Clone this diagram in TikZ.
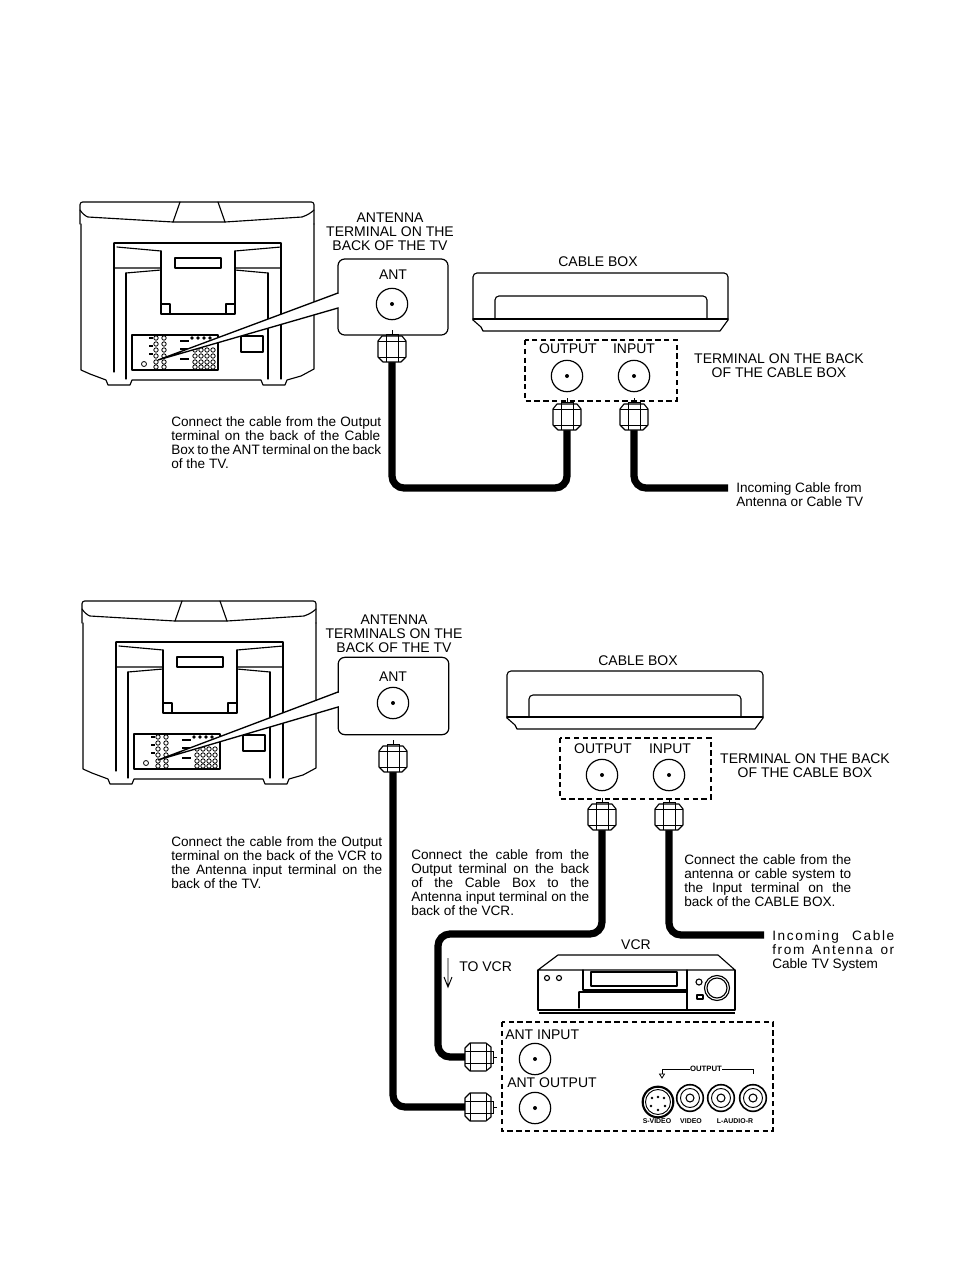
\documentclass[tikz,border=0pt]{standalone}
\usepackage{fontspec}
\setmainfont{Liberation Sans}
\newfontfamily\spacedf[LetterSpace=12]{Liberation Sans}
\newcommand\jl[2]{\hbox to \dimexpr #1pt*3/4\relax{#2}}
\tikzset{
  ln/.style={line width=0.85pt,line join=round,line cap=round},
  thinl/.style={line width=0.6pt},
  lbl/.style={inner sep=0pt,font=\fontsize{10.5}{10.5}\selectfont},
  para/.style={inner sep=0pt,anchor=north west,align=left,font=\fontsize{10.2}{10.5}\selectfont},
  tiny/.style={inner sep=0pt,font=\fontsize{5.2}{6}\selectfont\bfseries},
  cablel/.style={line width=5.4pt,rounded corners=9pt},
  jack/.style={draw,circle,line width=0.9pt,minimum size=23.5pt,inner sep=0pt},
  rca/.style={draw,circle,line width=1.2pt,minimum size=20pt,inner sep=0pt},
  dashbox/.style={draw,dashed,line width=0.8pt,dash pattern=on 4pt off 2.6pt},
  fconn/.pic={
    \draw[ln,fill=white] (-9,0)--(-14,-5)--(-14,-21)--(-10,-26)--(10,-26)--(14,-21)--(14,-5)--(9,0)--cycle;
    \draw[thinl] (-14,-21)--(14,-21) (-6,-26)--(-6,0) (6,-26)--(6,0) (-14,-5)--(14,-5);
    \draw[thinl] (-6,-28)--(6,-28)--(6,-26) (-6,-28)--(-6,-26) (0,-28)--(0,-32);
  }
}
\newcommand\tvback[2]{%
\begin{scope}[shift={(#1,#2)}]
 \draw[ln,rounded corners=2pt] (82,226)--(82,204)--(316,204)--(316,226);
 \draw[ln] (82,212)..controls (84,215) and (87,218) .. (90,219)--(175,224) (227,224)--(304,219)..controls (310,217) and (314,214) .. (316,212);
 \draw[ln] (175,224)--(182,204) (220,204)--(227,224) (181,224)--(221,224) (175,224)--(181,224) (221,224)--(227,224);
 \draw[ln] (83,226)--(83,372)--(92,376)--(108,382)--(110,387)--(132,387)--(134,382)--(263,382)--(265,387)--(287,387)--(289,382)--(303,378)--(316,371)--(316,226);
 \draw[ln] (116,245)--(283,245) (116,245)--(116,374) (283,245)--(283,381);
 \draw[ln] (119,249)--(163,253) (237,253)--(283,249);
 \draw[ln] (116,270)--(163,270) (128,275)--(163,272) (237,272)--(270,275) (237,270)--(283,270);
 \draw[ln] (128,275)--(128,381) (270,275)--(270,381);
 \draw[ln] (163,253)--(163,316)--(237,316)--(237,253);
 \draw[ln] (164,306)--(172,306)--(172,315) (236,306)--(228,306)--(228,315);
 \draw[ln] (177,260)--(223,260)--(223,270)--(177,270)--cycle;
 \draw[ln] (134,337)--(220,337)--(220,372)--(134,372)--cycle;
 \draw[ln] (243,338)--(265,338)--(265,354)--(243,354)--cycle;
 \foreach \c in {158,166} \foreach \r in {340,346,352,358,364,369} {\draw[thinl] (\c,\r) circle (2.2);}
 \foreach \c in {197,203,209,215} \foreach \r in {352,358,364,369} {\draw[thinl] (\c,\r) circle (2.2);}
 \foreach \c in {194,200,206,212} {\fill (\c,340) circle (1.8);}
 \draw[thinl] (146,366) circle (2.5);
 \draw[line width=1pt] (151,340)--(155,340) (151,348)--(155,348) (151,356)--(155,356) (182,343)--(191,343) (182,351)--(191,351) (182,361)--(191,361);
\end{scope}}
\begin{document}
\begin{tikzpicture}[x=0.75pt,y=-0.75pt]
\useasboundingbox (0,0) rectangle (953,1275);
\fill[white] (0,0) rectangle (953,1275);
%% ---------- TOP ----------
\tvback{-2}{-2}
\node[draw,rounded corners=5pt,line width=0.9pt,minimum width=82.5pt,minimum height=57pt,inner sep=0pt] (antA) at (393,297) {};
\coordinate (wA1) at (338,293); \coordinate (wA2) at (338,308); \coordinate (wA3) at (158,360);
\fill[white] (wA1)--(wA3)--(wA2)--cycle;
\draw[line width=1pt] (wA1)--(wA3)--(wA2);
\fill[white] (337.6,294) rectangle (339,307);
\node[lbl,align=center] (tA1) at (390,232) {ANTENNA\\TERMINAL ON THE\\BACK OF THE TV};
\node[lbl] (tA2) at (393,275) {ANT};
\node[jack] (jA) at (392,304) {}; \fill (jA) circle (2);
\node[lbl] (tA3) at (598,262) {CABLE BOX};
\draw[ln,rounded corners=3pt] (473,320)--(473,273)--(728,273)--(728,320);
\draw[ln] (473,319)--(728,319);
\draw[ln] (473,320)--(481,327)--(483,331)--(720,331)--(728,320);
\draw[ln,rounded corners=3pt] (495,318)--(495,296)--(707,296)--(707,318);
\draw[dashbox] (525,340) rectangle (677,401);
\node[lbl] (tA4) at (568,349) {OUTPUT};
\node[lbl] (tA5) at (634,349) {INPUT};
\node[jack] (jB) at (567,376) {}; \fill (jB) circle (2);
\node[jack] (jC) at (634,376) {}; \fill (jC) circle (2);
\node[lbl,align=center] (tA6) at (779,366) {TERMINAL ON THE BACK\\OF THE CABLE BOX};
\coordinate (a1) at (392,362); \coordinate (a2) at (392,488); \coordinate (a3) at (567,488); \coordinate (a4) at (567,430);
\coordinate (b1) at (634,430); \coordinate (b2) at (634,488); \coordinate (b3) at (728,488);
\draw[cablel] (a1)--(a2)--(a3)--(a4);
\draw[cablel] (b1)--(b2)--(b3);
\pic at (a1) {fconn};
\pic at (a4) {fconn};
\pic at (b1) {fconn};
\node[para] (pA) at (171,416) {\jl{210}{Connect the cable from the Output}\\\jl{209}{terminal on the back of the Cable}\\\jl{210}{Box to the ANT terminal on the back}\\of the TV.};
\node[para] (pB) at (736,482) {Incoming Cable from\\Antenna or Cable TV};
%% ---------- BOTTOM ----------
\tvback{0}{397}
\node[draw,rounded corners=5pt,line width=0.9pt,minimum width=83pt,minimum height=58pt,inner sep=0pt] (antB) at (393.5,696) {};
\coordinate (wB1) at (338,692); \coordinate (wB2) at (338,707); \coordinate (wB3) at (158,760);
\fill[white] (wB1)--(wB3)--(wB2)--cycle;
\draw[line width=1pt] (wB1)--(wB3)--(wB2);
\fill[white] (337.6,693) rectangle (339,706);
\node[lbl,align=center] (tB1) at (394,634) {ANTENNA\\TERMINALS ON THE\\BACK OF THE TV};
\node[lbl] (tB2) at (393,677) {ANT};
\node[jack] (jD) at (393,703) {}; \fill (jD) circle (2);
\node[lbl] (tB3) at (638,661) {CABLE BOX};
\draw[ln,rounded corners=3pt] (507,718)--(507,671)--(763,671)--(763,718);
\draw[ln] (507,717)--(763,717);
\draw[ln] (507,718)--(515,725)--(517,729)--(755,729)--(763,718);
\draw[ln,rounded corners=3pt] (529,716)--(529,695)--(741,695)--(741,716);
\draw[dashbox] (560,738) rectangle (711,799);
\node[lbl] (tB4) at (603,749) {OUTPUT};
\node[lbl] (tB5) at (670,749) {INPUT};
\node[jack] (jE) at (602,775) {}; \fill (jE) circle (2);
\node[jack] (jF) at (669,775) {}; \fill (jF) circle (2);
\node[lbl,align=center] (tB6) at (805,766) {TERMINAL ON THE BACK\\OF THE CABLE BOX};
\coordinate (c1) at (393,772); \coordinate (c2) at (393,1107); \coordinate (c3) at (465,1107);
\coordinate (d1) at (602,830); \coordinate (d2) at (602,934); \coordinate (d3) at (438,934); \coordinate (d4) at (438,1057); \coordinate (d5) at (465,1057);
\coordinate (e1) at (669,830); \coordinate (e2) at (669,935); \coordinate (e3) at (764,935);
\draw[cablel] (c1)--(c2)--(c3);
\draw[cablel] (d1)--(d2)--(d3)--(d4)--(d5);
\draw[cablel] (e1)--(e2)--(e3);
\pic at (c1) {fconn};
\pic at (d1) {fconn};
\pic at (e1) {fconn};
\pic[rotate=-90] at (d5) {fconn};
\pic[rotate=-90] at (c3) {fconn};
\node[para] (pC) at (171,836) {\jl{211}{Connect the cable from the Output}\\\jl{211}{terminal on the back of the VCR to}\\\jl{211}{the Antenna input terminal on the}\\back of the TV.};
\node[para] (pD) at (411,849) {\jl{178}{Connect the cable from the}\\\jl{178}{Output terminal on the back}\\\jl{178}{of the Cable Box to the}\\\jl{178}{Antenna input terminal on the}\\back of the VCR.};
\node[para] (pE) at (684,854) {\jl{167}{Connect the cable from the}\\\jl{167}{antenna or cable system to}\\\jl{167}{the Input terminal on the}\\back of the CABLE BOX.};
\node[para] (pF) at (772,930) {\spacedf\jl{122}{Incoming Cable}\\\spacedf\jl{122}{from Antenna or}\\Cable TV System};
\node[lbl] (tB7) at (636,945) {VCR};
\coordinate (ar1) at (448,958); \coordinate (ar2) at (448,987);
\draw[line width=0.7pt] (ar1)--(ar2) (444,977)--(ar2)--(452,977);
\node[lbl,anchor=west] (tB8) at (459,967) {TO VCR};
%% VCR
\draw[ln] (538,970)--(558,955)--(718,955)--(735,970)--cycle;
\draw[ln] (538,970)--(538,1010)--(735,1010)--(735,970);
\draw[line width=1.6pt] (539,1013)--(735,1013);
\draw[ln] (583,970)--(583,990)--(687,990) (687,970)--(687,1010);
\draw[ln] (579,992)--(579,1008) (579,992)--(687,992);
\draw[ln] (591,972) rectangle (677,986);
\draw[ln] (547,978) circle (2.5) (559,978) circle (2.5);
\draw[ln] (699,982) circle (3);
\draw[ln] (697,995) rectangle (703,999);
\draw[ln] (717,988) circle (12.5) (717,988) circle (10);
%% VCR terminals
\draw[dashbox] (502,1022) rectangle (773,1131);
\node[lbl,anchor=west] (tB9) at (505,1035) {ANT INPUT};
\node[lbl,anchor=west] (tB10) at (507,1083) {ANT OUTPUT};
\node[jack] (jG) at (535,1059) {}; \fill (jG) circle (2);
\node[jack] (jH) at (535,1108) {}; \fill (jH) circle (2);
\node[draw,circle,line width=1.6pt,minimum size=23pt,inner sep=0pt] (sv) at (658,1102) {};
\draw[line width=0.7pt] (sv) circle (12.5);
\foreach \a/\b in {652/1098,664/1098,651/1106,665/1106,658/1110,658/1097} {\fill (\a,\b) circle (1.4);}
\foreach \nm/\xx in {ra/690,rb/721,rc/753} {
  \node[rca] (\nm) at (\xx,1098) {};
  \draw[line width=0.7pt] (\nm) circle (9.5);
  \draw[line width=0.8pt] (\nm) circle (4);
}
\node[tiny] (l1) at (657,1121) {S-VIDEO};
\node[tiny] (l2) at (691,1121) {VIDEO};
\node[tiny] (l3) at (735,1121) {L-AUDIO-R};
\node[tiny,font=\fontsize{5.8}{6}\selectfont\bfseries] (l4) at (706,1069) {OUTPUT};
\draw[line width=0.7pt] (662,1074)--(662,1069)--(l4.west);
\draw[line width=0.7pt] (l4.east)--(753,1069)--(753,1074);
\draw[line width=0.6pt] (659.5,1074)--(664.5,1074)--(662,1078)--cycle;
\end{tikzpicture}
\end{document}
